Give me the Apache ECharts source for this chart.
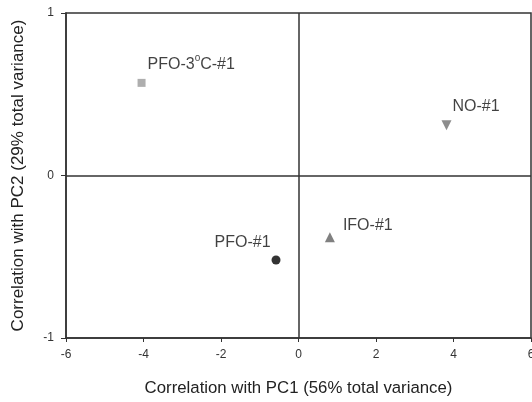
<!DOCTYPE html>
<html>
<head>
<meta charset="utf-8">
<script src="https://cdn.jsdelivr.net/npm/echarts@6/dist/echarts.min.js"></script>
<style>
  html, body { margin: 0; padding: 0; background: #fff; }
  #chart { width: 532px; height: 402px; }
</style>
</head>
<body>
<div id="chart"></div>
<script>
// sample names and their PC loadings
const sampleNames = ['PFO-3{sup|o}C-#1', 'NO-#1', 'IFO-#1', 'PFO-#1']
const pc1Values = [-4.05, 3.82, 0.81, -0.58]
const pc2Values = [0.57, 0.31, -0.38, -0.52]
const xTicks = [-6, -4, -2, 0, 2, 4, 6]
const yTicks = [-1, 0, 1]

const font = 'Liberation Sans, Arial, sans-serif'

// marker look per sample (same order as sampleNames)
const markers = [
  { symbol: 'rect', size: 8, color: '#9a9a9a', pos: 'right', offset: [-3, -18] },
  { symbol: 'triangle', size: 10, color: '#707070', pos: 'right', offset: [-4, -19], rotate: 180 },
  { symbol: 'triangle', size: 10, color: '#606060', pos: 'right', offset: [3, -12] },
  { symbol: 'circle', size: 9, color: '#000', pos: 'left', offset: [4, -17] }
]

const chart = echarts.init(document.getElementById('chart'))

const series = sampleNames.map((name, i) => {
  const m = markers[i]
  return {
    type: 'scatter',
    symbol: m.symbol,
    symbolSize: m.size,
    symbolRotate: m.rotate || 0,
    itemStyle: { color: m.color },
    data: [[pc1Values[i], pc2Values[i]]],
    label: {
      show: true,
      position: m.pos,
      offset: m.offset,
      formatter: name,
      color: '#111',
      fontFamily: font,
      fontSize: 16,
      lineHeight: 24,
      rich: {
        sup: { fontSize: 10, verticalAlign: 'top', lineHeight: 11, color: '#111', fontFamily: font }
      }
    },
    z: 3
  }
})

// zero cross lines
series.push({
  type: 'scatter',
  data: [],
  silent: true,
  markLine: {
    silent: true,
    symbol: 'none',
    label: { show: false },
    lineStyle: { color: '#333', width: 1.5, type: 'solid' },
    data: [{ xAxis: 0 }, { yAxis: 0 }]
  }
})

chart.setOption({
  animation: false,
  grid: {
    left: 66,
    right: 1,
    top: 13,
    bottom: 64,
    containLabel: false,
    outerBoundsMode: 'none',
    show: true,
    borderColor: '#333',
    borderWidth: 1.5
  },
  xAxis: {
    type: 'value',
    min: xTicks[0],
    max: xTicks[xTicks.length - 1],
    interval: 2,
    name: 'Correlation with PC1 (56% total variance)',
    nameLocation: 'middle',
    nameGap: 42,
    nameTextStyle: { fontFamily: font, fontSize: 16.8, color: '#222' },
    axisLine: { show: true, onZero: false, lineStyle: { color: '#333', width: 1.5 } },
    axisTick: { show: true, inside: false, length: 4, lineStyle: { color: '#333' } },
    axisLabel: { fontFamily: font, fontSize: 12, color: '#333', margin: 11 },
    splitLine: { show: false }
  },
  yAxis: {
    type: 'value',
    min: yTicks[0],
    max: yTicks[yTicks.length - 1],
    interval: 1,
    name: 'Correlation with PC2 (29% total variance)',
    nameLocation: 'middle',
    nameGap: 39,
    nameTextStyle: { fontFamily: font, fontSize: 17, color: '#222' },
    axisLine: { show: true, onZero: false, lineStyle: { color: '#333', width: 1.5 } },
    axisTick: { show: true, inside: false, length: 5, lineStyle: { color: '#333' } },
    axisLabel: { fontFamily: font, fontSize: 12, color: '#333', margin: 12 },
    splitLine: { show: false }
  },
  series
})
</script>
</body>
</html>
